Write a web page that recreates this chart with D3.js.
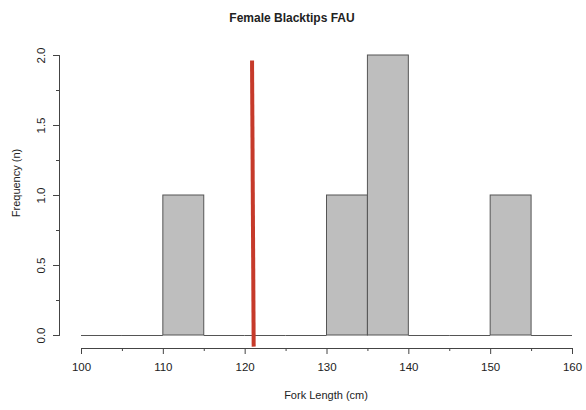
<!DOCTYPE html>
<html>
<head>
<meta charset="utf-8">
<script src="https://cdn.jsdelivr.net/npm/d3@7"></script>
<style>
  body { margin: 0; background: #fff; }
  text { font-family: "Liberation Sans", Arial, sans-serif; fill: #222; }
</style>
</head>
<body>
<div id="chart"></div>
<script>
// histogram bins (fork length, cm) and counts
var binStarts = [100, 105, 110, 115, 120, 125, 130, 135, 140, 145, 150, 155];
var binWidth = 5;
var counts = [0, 0, 1, 0, 0, 0, 1, 2, 0, 0, 1, 0];
var xTicks = [100, 110, 120, 130, 140, 150, 160];
var xMinor = [105, 115, 125, 135, 145, 155];
var yTicks = [0, 0.5, 1, 1.5, 2];
var yMinor = [0.25, 0.75, 1.25, 1.75];
// red reference line (slightly slanted, as in the picture)
var refLine = [{x: 120.9, y: 1.96}, {x: 121.1, y: -0.083}];

var width = 586, height = 410;
var svg = d3.select('#chart').append('svg')
    .attr('width', width)
    .attr('height', height);

var x = d3.scaleLinear().domain([100, 160]).range([81, 572]);
var y = d3.scaleLinear().domain([0, 2]).range([335, 55]);

// bars
svg.selectAll('rect.bar')
    .data(binStarts)
    .enter().append('rect')
    .attr('class', 'bar')
    .attr('x', function (d) { return x(d); })
    .attr('width', function (d) { return x(d + binWidth) - x(d); })
    .attr('y', function (d, i) { return y(counts[i]); })
    .attr('height', function (d, i) { return y(0) - y(counts[i]); })
    .style('fill', '#bebebe')
    .style('stroke', '#555')
    .style('stroke-width', 1);

// empty bins are drawn as flat lines (like R does)
svg.selectAll('line.empty')
    .data(binStarts.filter(function (d, i) { return counts[i] === 0; }))
    .enter().append('line')
    .attr('class', 'empty')
    .attr('x1', function (d) { return x(d); })
    .attr('x2', function (d) { return x(d + binWidth); })
    .attr('y1', y(0) + 0.5)
    .attr('y2', y(0) + 0.5)
    .style('stroke', '#555')
    .style('stroke-width', 1);

// x axis
var xAxisY = 348;
var gx = svg.append('g').attr('transform', 'translate(0,' + xAxisY + ')');
gx.call(d3.axisBottom(x).tickValues(xTicks).tickSize(6).tickPadding(9).tickFormat(d3.format('d')));
gx.append('g').call(d3.axisBottom(x).tickValues(xMinor).tickSize(3).tickFormat(''));
gx.selectAll('.domain').attr('stroke', '#444');
gx.selectAll('.tick line').attr('stroke', '#444');
gx.selectAll('text').style('font-size', '11.5px').style('fill', '#222')
    .style('font-family', '"Liberation Sans", Arial, sans-serif');

// y axis
var yAxisX = 59;
var gy = svg.append('g').attr('transform', 'translate(' + yAxisX + ',0)');
gy.call(d3.axisLeft(y).tickValues(yTicks).tickSize(6).tickPadding(8).tickFormat(d3.format('.1f')));
gy.append('g').call(d3.axisLeft(y).tickValues(yMinor).tickSize(3).tickFormat(''));
gy.selectAll('.domain').attr('stroke', '#444');
gy.selectAll('.tick line').attr('stroke', '#444');
gy.selectAll('text')
    .style('font-size', '11.5px').style('fill', '#222')
    .style('font-family', '"Liberation Sans", Arial, sans-serif')
    .attr('text-anchor', 'middle')
    .attr('dy', null)
    .attr('x', null)
    .attr('transform', function (d) { return 'translate(-17,0) rotate(-90)'; })
    .attr('dominant-baseline', 'middle');

// red line
svg.append('line')
    .attr('x1', x(refLine[0].x)).attr('y1', y(refLine[0].y))
    .attr('x2', x(refLine[1].x)).attr('y2', y(refLine[1].y))
    .style('stroke', '#c63a2a')
    .style('stroke-width', 4);

// titles
svg.append('text')
    .attr('x', 292).attr('y', 22)
    .attr('text-anchor', 'middle')
    .style('font-size', '12px').style('font-weight', 'bold')
    .text('Female Blacktips FAU');

svg.append('text')
    .attr('x', 326).attr('y', 399)
    .attr('text-anchor', 'middle')
    .style('font-size', '11px')
    .text('Fork Length (cm)');

svg.append('text')
    .attr('transform', 'translate(20,' + 183 + ') rotate(-90)')
    .attr('text-anchor', 'middle')
    .style('font-size', '11px')
    .text('Frequency (n)');
</script>
</body>
</html>
